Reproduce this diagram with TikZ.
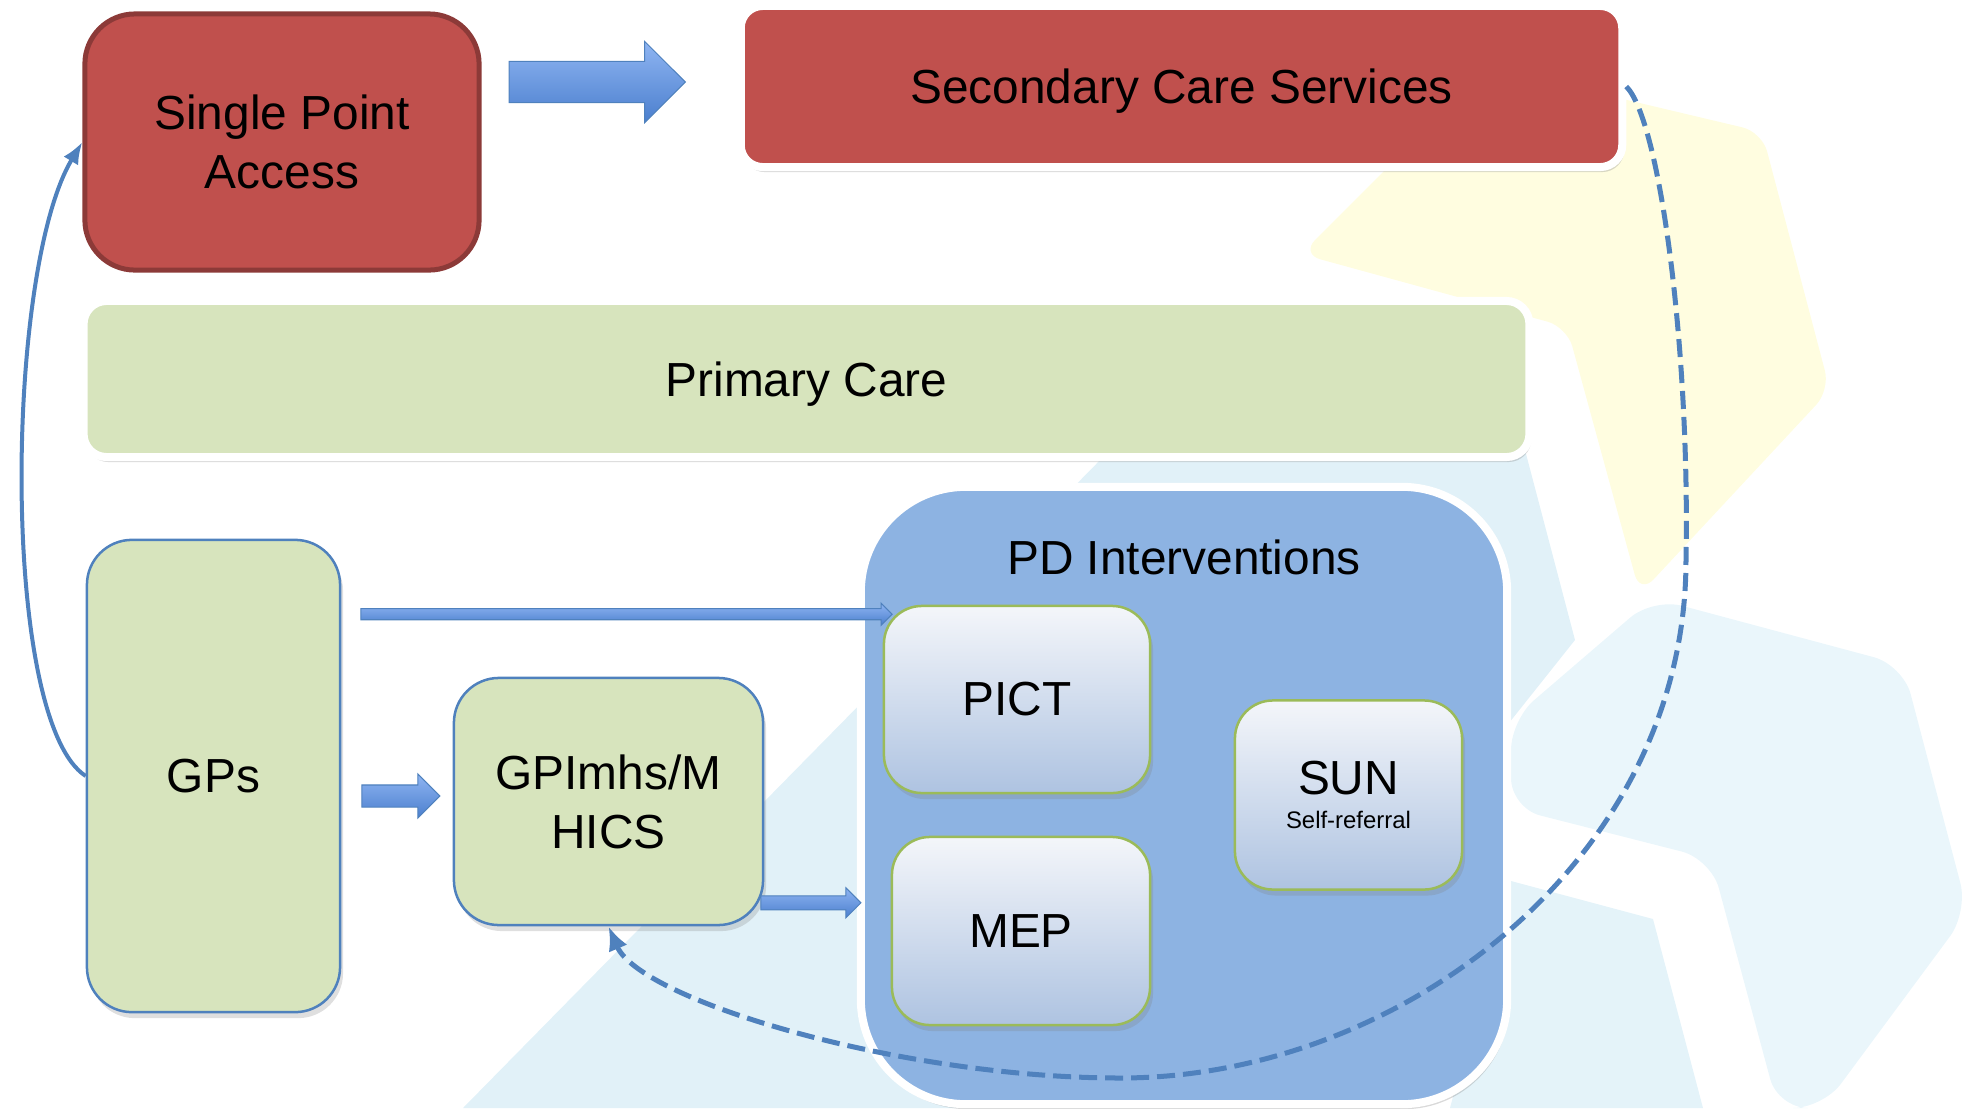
\documentclass[tikz,border=0pt]{standalone}
\usepackage{fontspec}
\setmainfont{Liberation Sans}
\usetikzlibrary{arrows.meta}
\usetikzlibrary{positioning}
\usetikzlibrary{shapes.arrows}
\usetikzlibrary{shadows}

\definecolor{spared}{HTML}{C0504D}
\definecolor{spadark}{HTML}{8C3A38}
\definecolor{pcgreen}{HTML}{D7E4BD}
\definecolor{pdblue}{HTML}{8DB3E2}
\definecolor{edgeblue}{HTML}{4F81BD}
\definecolor{edgegreen}{HTML}{9BBB59}
\definecolor{boxtop}{HTML}{F4F6FA}
\definecolor{boxbot}{HTML}{AEC3E1}
\definecolor{arrtop}{HTML}{8FB5F2}
\definecolor{arrbot}{HTML}{4B7FCE}
\definecolor{bgyellow}{HTML}{FFFDE0}
\definecolor{bgA}{HTML}{E1F1F8}
\definecolor{bgB}{HTML}{EAF6FB}
\definecolor{bgC}{HTML}{E4F3F9}

\newcommand{\bigf}{\fontsize{13.6pt}{16.8pt}\selectfont}
\newcommand{\tinyf}{\fontsize{6.8pt}{8pt}\selectfont}

\begin{document}
\begin{tikzpicture}
    [x=0.01cm, y=-0.01cm, font=\bigf,
     rb/.style={rectangle, rounded corners=0.5cm, fill=spared, draw=spadark, line width=0.05cm, align=center},
     wb/.style={rectangle, rounded corners=0.23cm, draw=white, line width=0.08cm,
                drop shadow={shadow xshift=0.2mm, shadow yshift=-0.5mm, opacity=0.3}},
     gb/.style={rectangle, rounded corners=0.45cm, fill=pcgreen, draw=edgeblue, line width=0.025cm, align=center,
                drop shadow={shadow xshift=0.3mm, shadow yshift=-0.6mm, opacity=0.25}},
     ib/.style={rectangle, rounded corners=0.38cm, top color=boxtop, bottom color=boxbot, draw=edgegreen,
                line width=0.025cm, align=center,
                drop shadow={shadow xshift=0.3mm, shadow yshift=-0.6mm, opacity=0.25}},
     blk/.style={single arrow, draw=edgeblue, line width=0.3pt, top color=arrtop, bottom color=arrbot,
                 inner xsep=0pt, anchor=tail},
     sl/.style={draw=edgeblue, line width=0.04cm, -{Latex[length=0.22cm, width=0.17cm]}},
     dl/.style={draw=edgeblue, line width=0.05cm, dash pattern=on 0.18cm off 0.08cm, -{Latex[length=0.24cm, width=0.2cm]}}]

    \useasboundingbox (0,0) rectangle (1974,1108);

    % background
    \fill[bgyellow, rounded corners=2mm] (1301,254) -- (1488,67) -- (1762,132) -- (1830,390) -- (1640,594) -- (1567,327) -- cycle;
    \fill[bgA] (463,1108) -- (1110,450) -- (1525,450) -- (1575,640) -- (1400,860) -- (1400,1108) -- cycle;
    \fill[bgB, rounded corners=3mm] (1511,720) -- (1653,598) -- (1903,665) -- (1968,912) -- (1823,1108) -- (1778,1108) -- (1711,859) -- (1511,808) -- cycle;
    \fill[bgC] (1511,881) -- (1653,919) -- (1703,1108) -- (1450,1108) -- cycle;

    \node [rb, minimum width=3.94cm, minimum height=2.56cm] (spa) at (282,142) {Single Point\\Access};
    \node [wb, fill=spared, minimum width=8.81cm, minimum height=1.61cm, rounded corners=0.22cm, text depth=0pt] (scs) at (1181.5,86.5) {Secondary Care Services};
    \node [wb, fill=pcgreen, minimum width=14.45cm, minimum height=1.56cm, text depth=0pt] (pc) at (806.5,379) {Primary Care};
    \node [wb, fill=pdblue, minimum width=6.46cm, minimum height=6.17cm, rounded corners=1.05cm] (pd) at (1184,795.5) {};
    \node (pdt) at ([yshift=-7.5mm] pd.north) {PD Interventions};

    \node [gb, minimum width=2.53cm, minimum height=4.72cm] (gps) at (213.5,776) {GPs};
    \node [gb, minimum width=3.09cm, minimum height=2.47cm] (mh) at (608.5,801.5) {GPImhs/M\\HICS};

    \node [ib, minimum width=2.66cm, minimum height=1.87cm] (pict) at (1017,699.5) {PICT};
    \node [ib, minimum width=2.58cm, minimum height=1.88cm] (mep) at (1021,931) {MEP};
    \node [ib, minimum width=2.27cm, minimum height=1.89cm] (sun) at (1348.5,795) {SUN\\[-7pt]{\tinyf Self-referral}};

    % block arrows
    \node [blk, minimum height=1.76cm, inner ysep=0.2cm, single arrow head extend=0.2cm] (a1)
        at ([xshift=2.7mm, yshift=0.45mm] spa.east |- scs.west) {};
    \node [blk, minimum height=0.78cm, inner ysep=0.105cm, single arrow head extend=0.11cm] (a2)
        at ([xshift=2mm, yshift=0.55mm] gps.east |- mh.west) {};
    \node [blk, minimum height=1cm, inner ysep=0.065cm, single arrow head extend=0.08cm] (a3)
        at ([xshift=-0.4mm, yshift=2.35mm] mh.south east) {};
    \node [blk, minimum height=5.31cm, inner ysep=0.05cm, single arrow head extend=0.055cm] (a4)
        at ([xshift=1.9mm, yshift=-0.95mm] gps.east |- pict.north) {};

    % links
    \draw [sl] (gps.west) .. controls (0,720) and (5,270) .. (spa.west);
    \draw [dl] (scs.east) .. controls (1660,120) and (1690,350) .. (1686,560)
        .. controls (1686,860) and (1400,1078) .. (1120,1078)
        .. controls (900,1078) and (640,1000) .. (mh.south);
\end{tikzpicture}
\end{document}
